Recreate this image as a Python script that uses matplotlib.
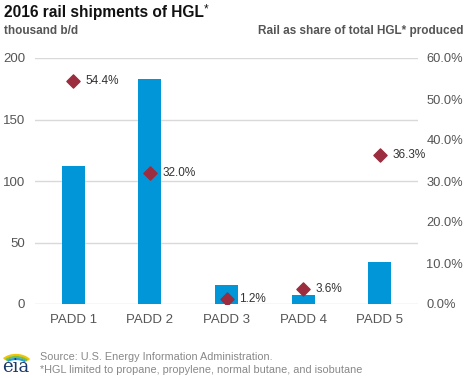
import matplotlib.pyplot as plt
from matplotlib.patches import Arc
from matplotlib.ticker import FuncFormatter

plt.rcParams['font.family'] = ['Liberation Sans', 'DejaVu Sans']

# data
regions = ["PADD 1", "PADD 2", "PADD 3", "PADD 4", "PADD 5"]
rail_kbd = [112, 183, 15.5, 7, 34]
rail_share = [54.4, 32.0, 1.2, 3.6, 36.3]
share_labels = ["54.4%", "32.0%", "1.2%", "3.6%", "36.3%"]

BAR = "#0096d7"
DIAMOND = "#9b2d3e"
GRAY = "#555555"
GRID = "#d9d9d9"

fig = plt.figure(figsize=(4.68, 3.78), dpi=100)
ax = fig.add_axes([35 / 468, 74 / 378, 383 / 468, 246 / 378])
x = list(range(len(regions)))

ax.bar(x, rail_kbd, width=0.3, color=BAR, zorder=2)
ax.set_xlim(-0.5, len(regions) - 0.5)
ax.set_ylim(0, 200)
ax.set_yticks([0, 50, 100, 150, 200])
ax.grid(axis="y", color=GRID, linewidth=1, zorder=0)
ax.set_xticks(x)
ax.set_xticklabels(regions)
for s in ax.spines.values():
    s.set_visible(False)
ax.tick_params(length=0, colors=GRAY, labelsize=9.5)
ax.tick_params(axis="y", pad=7)
ax.tick_params(axis="x", pad=7)

ax2 = ax.twinx()
ax2.set_ylim(0, 60)
ax2.set_yticks([0, 10, 20, 30, 40, 50, 60])
ax2.yaxis.set_major_formatter(FuncFormatter(lambda v, p: f"{v:.1f}%"))
for s in ax2.spines.values():
    s.set_visible(False)
ax2.tick_params(length=0, colors=GRAY, labelsize=9.3, pad=6)
ax2.scatter(x, rail_share, marker="D", s=45, color=DIAMOND, zorder=3)
for xi, yi, lab in zip(x, rail_share, share_labels):
    ax2.annotate(lab, (xi, yi), xytext=(9, 0), textcoords="offset points",
                 va="center", ha="left", fontsize=8.5, color="#333333")

fig.text(4 / 468, 1 - 12 / 378, "2016 rail shipments of HGL", fontsize=11.2,
         fontweight="bold", va="center", ha="left", color="#111111")
fig.text(204 / 468, 1 - 9 / 378, "*", fontsize=8.5,
         va="center", ha="left", color="#111111")
fig.text(4 / 468, 1 - 31 / 378, "thousand b/d", fontsize=8.5, fontweight="bold",
         va="center", ha="left", color=GRAY)
fig.text(463 / 468, 1 - 31 / 378, "Rail as share of total HGL* produced",
         fontsize=8.5, fontweight="bold", va="center", ha="right", color=GRAY)

fig.text(40 / 468, 1 - 357 / 378, "Source: U.S. Energy Information Administration.",
         fontsize=7.8, va="center", ha="left", color="#888888")
fig.text(40 / 468, 1 - 370 / 378,
         "*HGL limited to propane, propylene, normal butane, and isobutane",
         fontsize=7.8, va="center", ha="left", color="#888888")

# eia logo
fig.text(2 / 468, 1 - 367 / 378, "eia", fontsize=13, family="DejaVu Serif",
         va="center", ha="left", color="#1a3a6b")
lax = fig.add_axes([0, 0, 40 / 468, 40 / 378])
lax.set_xlim(0, 40)
lax.set_ylim(0, 40)
lax.axis("off")
for r, c in [(14, "#f2c500"), (12, "#7cbf3f"), (10, "#2a9fd6")]:
    lax.add_patch(Arc((16, 12), 2 * r + 4, 2 * r - 6, theta1=25, theta2=150,
                      color=c, linewidth=1.6))

fig.savefig("out.png", dpi=100)
